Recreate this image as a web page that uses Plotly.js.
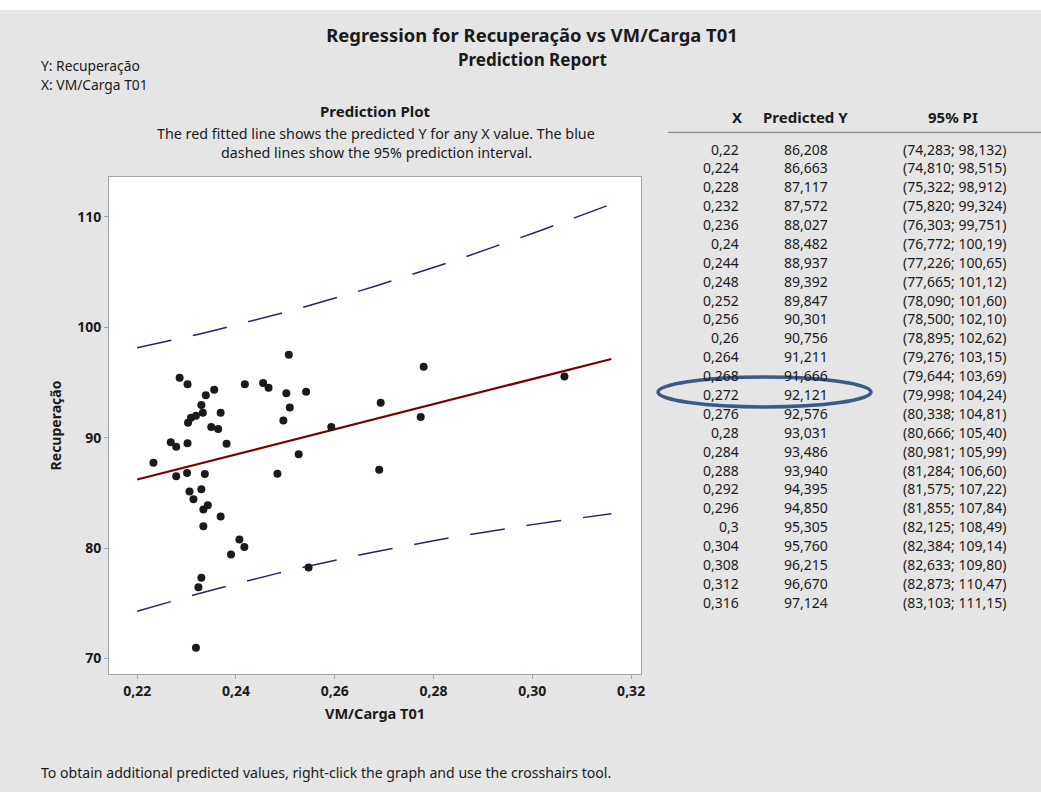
<!DOCTYPE html>
<html>
<head>
<meta charset="utf-8">
<script src="https://cdn.plot.ly/plotly-3.0.1.min.js"></script>
<style>
html,body{margin:0;padding:0;background:#e5e5e5;}
#chart{width:1041px;height:792px;}
</style>
</head>
<body>
<div id="chart"></div>
<script>
// ---------- DATA ----------
// Observed points (VM/Carga T01, Recuperação)
const obsX = [0.2286,0.2302,0.2339,0.2356,0.2418,0.2455,0.2466,0.2330,0.2333,0.2369,
              0.2319,0.2309,0.2303,0.2350,0.2364,0.2268,0.2279,0.2302,0.2381,0.2233,
              0.2279,0.2301,0.2337,0.2484,0.2306,0.2330,0.2314,0.2334,0.2343,0.2369,
              0.2334,0.2407,0.2417,0.2390,0.2330,0.2324,0.2319,0.2507,0.2502,0.2542,
              0.2509,0.2496,0.2593,0.2527,0.2693,0.2690,0.2774,0.2780,0.3065,0.2547];
const obsY = [95.42,94.83,93.83,94.33,94.83,94.95,94.51,92.95,92.25,92.25,
              91.98,91.80,91.35,90.97,90.78,89.58,89.18,89.49,89.45,87.73,
              86.51,86.81,86.71,86.74,85.13,85.33,84.43,83.50,83.87,82.87,
              81.97,80.77,80.09,79.41,77.31,76.46,70.98,97.50,94.03,94.15,
              92.73,91.56,90.96,88.50,93.16,87.10,91.86,96.41,95.53,78.24];

// Prediction report table
const tableX = [0.22,0.224,0.228,0.232,0.236,0.24,0.244,0.248,0.252,0.256,0.26,0.264,0.268,
                0.272,0.276,0.28,0.284,0.288,0.292,0.296,0.3,0.304,0.308,0.312,0.316];
const predY  = [86.208,86.663,87.117,87.572,88.027,88.482,88.937,89.392,89.847,90.301,90.756,91.211,91.666,
                92.121,92.576,93.031,93.486,93.940,94.395,94.850,95.305,95.760,96.215,96.670,97.124];
const piLow  = [74.283,74.810,75.322,75.820,76.303,76.772,77.226,77.665,78.090,78.500,78.895,79.276,79.644,
                79.998,80.338,80.666,80.981,81.284,81.575,81.855,82.125,82.384,82.633,82.873,83.103];
const piHigh = [98.132,98.515,98.912,99.324,99.751,100.19,100.65,101.12,101.60,102.10,102.62,103.15,103.69,
                104.24,104.81,105.40,105.99,106.60,107.22,107.84,108.49,109.14,109.80,110.47,111.15];

const xTickVals = [0.22,0.24,0.26,0.28,0.30,0.32];
const yTickVals = [70,80,90,100,110];

// ---------- LAYOUT HELPERS ----------
const W = 1041, H = 792;
const PL = 109, PR = 641, PT = 177, PB = 674;
const px = x => (x - PL) / (PR - PL);
const py = y => (PB - y) / (PB - PT);
const FONT = "'Noto Sans', 'Open Sans', sans-serif";
const TXT = '#1a1a1a';
const fmt = v => v.toPrecision(5).replace('.', ',');
const fmtX = v => String(v).replace('.', ',');

const traces = [
  {x: tableX, y: piHigh, mode: 'lines', type: 'scatter', hoverinfo: 'skip',
   line: {color: '#25256e', width: 1.5, dash: '35px,22px'}, showlegend: false},
  {x: tableX, y: piLow, mode: 'lines', type: 'scatter', hoverinfo: 'skip',
   line: {color: '#25256e', width: 1.5, dash: '35px,22px'}, showlegend: false},
  {x: tableX, y: predY, mode: 'lines', type: 'scatter',
   line: {color: '#7a0000', width: 2.2}, showlegend: false},
  {x: obsX, y: obsY, mode: 'markers', type: 'scatter',
   marker: {color: '#1a1a1a', size: 8, line: {width: 0}}, showlegend: false}
];

const ann = [];
function addText(text, x, y, opts) {
  ann.push(Object.assign({
    text: text, x: px(x), y: py(y), xref: 'paper', yref: 'paper',
    showarrow: false, xanchor: 'center', yanchor: 'middle',
    font: {family: FONT, size: 14, color: TXT}
  }, opts || {}));
}
addText('Prediction Report', 532, 60, {font: {family: FONT, size: 17, color: TXT, weight: 'bold'}});
addText('Y: Recuperação', 39, 66, {xanchor: 'left', font: {family: FONT, size: 13.8, color: TXT}});
addText('X: VM/Carga T01', 39, 84, {xanchor: 'left', font: {family: FONT, size: 13.8, color: TXT}});
addText('Prediction Plot', 375, 111, {font: {family: FONT, size: 15, color: TXT, weight: 'bold'}});
addText('The red fitted line shows the predicted Y for any X value. The blue', 376, 133, {font: {family: FONT, size: 14.3, color: TXT}});
addText('dashed lines show the 95% prediction interval.', 376, 153, {font: {family: FONT, size: 14.3, color: TXT}});
addText('To obtain additional predicted values, right-click the graph and use the crosshairs tool.', 39, 772, {xanchor: 'left', font: {family: FONT, size: 14.1, color: TXT}});

// Table headers
const hdrFont = {family: FONT, size: 15, color: TXT, weight: 'bold'};
addText('X', 737, 117, {font: hdrFont});
addText('Predicted Y', 805, 117, {font: hdrFont});
addText('95% PI', 953, 117, {font: hdrFont});

// Table rows
const row0 = 149, rowStep = (602.3 - 149) / 24;
const rowFont = {family: FONT, size: 14, color: TXT};
tableX.forEach((xv, i) => {
  const y = row0 + i * rowStep;
  addText(fmtX(xv), 741, y, {xanchor: 'right', font: rowFont});
  addText(fmt(predY[i]), 806, y, {font: rowFont});
  addText('(' + fmt(piLow[i]) + '; ' + fmt(piHigh[i]) + ')', 954, y, {font: rowFont});
});

const shapes = [
  // white strip at top of the window
  {type: 'rect', xref: 'paper', yref: 'paper', x0: px(0), x1: px(W), y0: py(10), y1: py(0),
   fillcolor: '#ffffff', line: {width: 0}, layer: 'below'},
  // table header rule
  {type: 'line', xref: 'paper', yref: 'paper', x0: px(668), x1: px(1041), y0: py(132.3), y1: py(132.3),
   line: {color: '#8c8c8c', width: 1.2}},
  // highlight ellipse
  {type: 'circle', xref: 'paper', yref: 'paper', x0: px(658), x1: px(871), y0: py(407), y1: py(377),
   line: {color: '#3c5a88', width: 3.5}}
];

const axisCommon = {
  showgrid: false, zeroline: false, showline: true, mirror: true,
  linecolor: '#a6a6a6', linewidth: 1,
  ticks: 'outside', ticklen: 4, tickcolor: '#a6a6a6', tickwidth: 1,
  tickfont: {family: FONT, size: 14, color: TXT, weight: 'bold'}
};

const layout = {
  width: W, height: H,
  paper_bgcolor: '#e5e5e5', plot_bgcolor: '#ffffff',
  separators: ',.',
  margin: {l: PL, r: W - PR, t: PT, b: H - PB, pad: 0},
  title: {text: 'Regression for Recuperação vs VM/Carga T01',
          font: {family: FONT, size: 18.4, color: TXT, weight: 'bold'},
          x: 532 / W, xref: 'container', xanchor: 'center',
          y: 1 - 36 / H, yref: 'container', yanchor: 'middle'},
  xaxis: Object.assign({}, axisCommon, {
    range: [0.2143, 0.3220], tickvals: xTickVals, tickformat: '.2f',
    title: {text: 'VM/Carga T01', standoff: 10,
            font: {family: FONT, size: 14.5, color: TXT, weight: 'bold'}}
  }),
  yaxis: Object.assign({}, axisCommon, {
    range: [68.6, 113.6], tickvals: yTickVals,
    title: {text: 'Recuperação', standoff: 12,
            font: {family: FONT, size: 14, color: TXT, weight: 'bold'}}
  }),
  annotations: ann,
  shapes: shapes,
  showlegend: false
};

Plotly.newPlot('chart', traces, layout, {displayModeBar: false, staticPlot: true});
</script>
</body>
</html>
